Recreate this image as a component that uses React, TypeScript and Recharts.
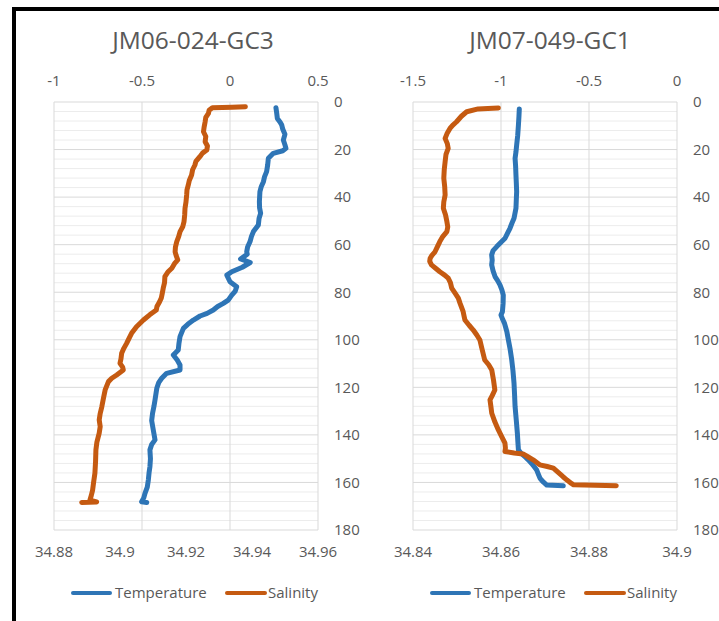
import { ComposedChart, Line, XAxis, YAxis, CartesianGrid } from 'recharts';

// [depth, value] readings, depth in cm (0 at the top)
const gc3Temperature: [number, number][] = [
  [2.4, 0.261], [4.5, 0.265], [6.9, 0.269], [8.5, 0.285], [9.7, 0.294], [11.5, 0.3], [13.6, 0.312],
  [16, 0.303], [18, 0.312], [19.5, 0.318], [20.5, 0.3], [21.6, 0.246], [23.7, 0.218], [26.5, 0.214],
  [29.3, 0.208], [31.5, 0.196], [33.5, 0.19], [35.5, 0.178], [37.7, 0.17], [41.9, 0.167], [44.5, 0.168],
  [46.8, 0.174], [49, 0.165], [51.7, 0.161], [54.5, 0.133], [56.5, 0.122], [58.7, 0.114], [61, 0.1],
  [63, 0.095], [64, 0.098], [66, 0.06], [67.5, 0.115], [69.5, 0.07], [71.4, 0.01], [72.8, -0.018],
  [75.6, 0], [77.7, 0.038], [79.5, 0.03], [81.2, 0.01], [83.3, -0.01], [84.7, -0.038], [86, -0.07],
  [87.5, -0.095], [88.9, -0.13], [90, -0.17], [91.7, -0.208], [93.5, -0.24], [95.2, -0.265], [98.7, -0.284],
  [101.5, -0.29], [104.3, -0.294], [106.4, -0.322], [108.5, -0.3], [110.6, -0.284], [112.7, -0.284],
  [114.1, -0.36], [116.2, -0.388], [118, -0.405], [120.4, -0.416], [125.3, -0.426], [128, -0.432],
  [130.9, -0.44], [134, -0.445], [137.9, -0.436], [142.1, -0.426], [144, -0.445], [146.3, -0.455],
  [150, -0.452], [153.4, -0.455], [156, -0.46], [159, -0.464], [162, -0.47], [164.6, -0.483],
  [166.5, -0.49], [168.1, -0.502], [168.4, -0.473],
];

const gc3Salinity: [number, number][] = [
  [2.0, 34.938], [2.2, 34.934], [2.4, 34.928], [3.5, 34.927], [4.8, 34.9268], [6.5, 34.926], [8.3, 34.9258],
  [10.5, 34.9255], [12.5, 34.9253], [14.5, 34.926], [16.7, 34.9258], [18.5, 34.9265], [20.2, 34.9263],
  [21.5, 34.925], [23, 34.9242], [25, 34.923], [26.5, 34.9227], [28.5, 34.922], [30.7, 34.9217],
  [33, 34.921], [34.9, 34.9207], [37, 34.9203], [39.1, 34.9202], [42, 34.92], [44.7, 34.9197],
  [47.5, 34.9196], [50.3, 34.9194], [52.5, 34.919], [54.5, 34.9182], [56.5, 34.9178], [58.7, 34.9172],
  [61, 34.9168], [63, 34.9167], [64.5, 34.917], [66.4, 34.9175], [68, 34.9165], [69.9, 34.9157],
  [71.5, 34.9145], [73.4, 34.9136], [76, 34.9135], [78.3, 34.9131], [80.5, 34.9128], [82.5, 34.9125],
  [84, 34.912], [86, 34.9112], [87.5, 34.911], [89.5, 34.909], [91.7, 34.9071], [94.5, 34.905],
  [97.3, 34.9035], [99.5, 34.9027], [101.5, 34.902], [103.5, 34.9012], [105.7, 34.9005], [108, 34.9003],
  [109.9, 34.9], [111.5, 34.9008], [112.7, 34.901], [114.8, 34.899], [116.2, 34.8975], [117.6, 34.8965],
  [121.1, 34.8955], [124.5, 34.895], [128.1, 34.8945], [131, 34.894], [133.7, 34.8937], [136.5, 34.894],
  [139.3, 34.8937], [143, 34.893], [146.3, 34.8927], [151, 34.8926], [156.1, 34.8924], [160, 34.892],
  [163.2, 34.8917], [165.5, 34.8913], [167.4, 34.8909], [168.2, 34.8929], [168.4, 34.8884],
];

const gc1Temperature: [number, number][] = [
  [2.9, -0.896], [6, -0.898], [9.7, -0.901], [14, -0.905], [18.1, -0.911], [21, -0.915], [23.7, -0.92],
  [27, -0.917], [30.7, -0.915], [34, -0.913], [37.7, -0.911], [41, -0.913], [44.7, -0.915], [48.9, -0.926],
  [51, -0.938], [53.1, -0.949], [55, -0.962], [57.3, -0.977], [59, -1.0], [60.8, -1.024], [62.5, -1.045],
  [64.3, -1.053], [66.5, -1.05], [68.5, -1.053], [71, -1.045], [73.4, -1.034], [75, -1.02], [76.9, -1.006],
  [79, -0.995], [81.2, -0.987], [84.7, -0.988], [88.2, -0.992], [89.6, -1.0], [91.5, -0.99], [93.1, -0.98],
  [96.5, -0.967], [100.1, -0.958], [104, -0.948], [108.5, -0.939], [113, -0.932], [118.3, -0.926],
  [123, -0.923], [128.1, -0.92], [134, -0.913], [139.3, -0.907], [143, -0.904], [146.3, -0.901],
  [147.8, -0.885], [149.2, -0.864], [150.5, -0.845], [152, -0.826], [153.5, -0.81], [154.8, -0.797],
  [156.5, -0.788], [158.3, -0.778], [159.8, -0.76], [161.1, -0.74], [161.4, -0.646],
];

const gc1Salinity: [number, number][] = [
  [2.5, 34.8594], [2.7, 34.857], [2.9, 34.8548], [4.1, 34.8522], [6, 34.851], [8.3, 34.8499], [9.8, 34.849],
  [11.1, 34.8484], [13, 34.8478], [15.3, 34.8473], [17.5, 34.8478], [19.5, 34.848], [22, 34.8475],
  [25.1, 34.8473], [28.5, 34.8471], [32.1, 34.847], [35.5, 34.8472], [39.1, 34.8473], [42, 34.847],
  [44.7, 34.8469], [47.5, 34.8474], [50.3, 34.8477], [52.5, 34.8479], [54.5, 34.8477], [56.5, 34.8468],
  [58.7, 34.8461], [61, 34.8455], [63, 34.845], [64.5, 34.8443], [65.7, 34.8439], [67, 34.8438],
  [68.5, 34.8442], [70, 34.8452], [71.4, 34.8461], [72.8, 34.8472], [74.1, 34.848], [76, 34.8485],
  [78.3, 34.8488], [80.5, 34.8496], [82.5, 34.8503], [84.7, 34.8507], [88.2, 34.8514], [90, 34.8516],
  [91.7, 34.8518], [94, 34.8528], [95.9, 34.8537], [98, 34.8545], [100.1, 34.8552], [104, 34.8557],
  [108.5, 34.8563], [110.5, 34.8572], [112.7, 34.8579], [117, 34.8583], [121.1, 34.8586], [123.5, 34.858],
  [125.3, 34.8575], [128, 34.8577], [130.9, 34.8579], [134.5, 34.8586], [137.9, 34.8594], [140.5, 34.8601],
  [143.5, 34.8609], [145.5, 34.861], [147, 34.8609], [147.6, 34.863], [148, 34.865], [149.3, 34.8662],
  [150.5, 34.8673], [152.6, 34.8688], [153.3, 34.8705], [154, 34.8719], [155.8, 34.873], [157.6, 34.8741],
  [159, 34.875], [160.4, 34.876], [161, 34.8765], [161.4, 34.8862],
];

const depthDomain = [0, 180];
const depthTicks = [0, 20, 40, 60, 80, 100, 120, 140, 160, 180];
const minorDepthTicks = [
  4, 8, 12, 16, 24, 28, 32, 36, 44, 48, 52, 56, 64, 68, 72, 76, 84, 88, 92, 96,
  104, 108, 112, 116, 124, 128, 132, 136, 144, 148, 152, 156, 164, 168, 172, 176,
];
const gc3TempTicks = [-1, -0.5, 0, 0.5];
const gc3SalTicks = [34.88, 34.9, 34.92, 34.94, 34.96];
const gc1TempTicks = [-1.5, -1, -0.5, 0];
const gc1SalTicks = [34.84, 34.86, 34.88, 34.9];

const BLUE = '#2E75B6';
const ORANGE = '#C55A11';
const TEXT = '#595959';
const FONT = "'Open Sans', sans-serif";
const tickStyle = { fill: TEXT, fontSize: 15, fontFamily: FONT };

const toRows = (pts: [number, number][]) => pts.map(([depth, value]) => ({ depth, value }));

// minor grid rows: map depth onto the plot's height (depth axis runs top→down)
const minorRows = ({ yAxis, offset }: any) => {
  if (yAxis && typeof yAxis.scale === 'function') return minorDepthTicks.map((d) => yAxis.scale(d));
  const [d0, d1] = depthDomain;
  return minorDepthTicks.map((d) => offset.top + ((d - d0) / (d1 - d0)) * offset.height);
};

interface ProfileProps {
  left: number;
  title: string;
  titleX: number;
  temps: [number, number][];
  sals: [number, number][];
  tempTicks: number[];
  salTicks: number[];
}

function Profile({ left, title, titleX, temps, sals, tempTicks, salTicks }: ProfileProps) {
  const plotLeft = left === 0 ? 54 : 53;
  return (
    <div style={{ position: 'absolute', left, top: 0, width: 370, height: 621 }}>
      <svg width={370} height={621} style={{ position: 'absolute', left: 0, top: 0 }}>
        <text x={titleX} y={48.5} textAnchor="middle" fill={TEXT} fontSize={24.5} fontFamily={FONT}>
          {title}
        </text>
        <line x1={plotLeft + 19} x2={plotLeft + 56} y1={593} y2={593} stroke={BLUE} strokeWidth={4} strokeLinecap="round" />
        <text x={plotLeft + 61} y={597.5} fill={TEXT} fontSize={15} fontFamily={FONT}>Temperature</text>
        <line x1={plotLeft + 173} x2={plotLeft + 211} y1={593} y2={593} stroke={ORANGE} strokeWidth={4} strokeLinecap="round" />
        <text x={plotLeft + 214} y={597.5} fill={TEXT} fontSize={15} fontFamily={FONT}>Salinity</text>
      </svg>
      <div style={{ position: 'absolute', left: 0, top: 0 }}>
        <ComposedChart
          layout="vertical"
          width={370}
          height={580}
          margin={{ top: 60, right: 0, bottom: 0, left: plotLeft }}
        >
          <XAxis
            xAxisId="temp"
            type="number"
            orientation="top"
            domain={[tempTicks[0], tempTicks[tempTicks.length - 1]]}
            ticks={tempTicks}
            interval={0}
            height={42}
            axisLine={false}
            tickLine={false}
            tickSize={0}
            tickMargin={16}
            tick={tickStyle}
            allowDataOverflow
          />
          <XAxis
            xAxisId="sal"
            type="number"
            orientation="bottom"
            domain={[salTicks[0], salTicks[salTicks.length - 1]]}
            ticks={salTicks}
            interval={0}
            height={50}
            axisLine={false}
            tickLine={false}
            tickSize={0}
            tickMargin={16}
            tick={tickStyle}
            allowDataOverflow
          />
          <YAxis
            yAxisId="depth"
            type="number"
            dataKey="depth"
            orientation="right"
            domain={depthDomain}
            ticks={depthTicks}
            interval={0}
            width={370 - plotLeft - 264}
            axisLine={false}
            tickLine={false}
            tickSize={0}
            tickMargin={16}
            tick={{ ...tickStyle, textAnchor: 'start' }}
            allowDataOverflow
          />
          <CartesianGrid
            xAxisId="temp"
            yAxisId="depth"
            vertical={false}
            stroke="#ececec"
            horizontalCoordinatesGenerator={minorRows}
          />
          <CartesianGrid xAxisId="temp" yAxisId="depth" stroke="#d9d9d9" />
          <Line
            xAxisId="temp"
            yAxisId="depth"
            data={toRows(temps)}
            dataKey="value"
            name="Temperature"
            stroke={BLUE}
            strokeWidth={5}
            strokeLinejoin="round"
            strokeLinecap="round"
            dot={false}
            isAnimationActive={false}
          />
          <Line
            xAxisId="sal"
            yAxisId="depth"
            data={toRows(sals)}
            dataKey="value"
            name="Salinity"
            stroke={ORANGE}
            strokeWidth={5}
            strokeLinejoin="round"
            strokeLinecap="round"
            dot={false}
            isAnimationActive={false}
          />
        </ComposedChart>
      </div>
    </div>
  );
}

export default function App() {
  return (
    <div
      style={{
        position: 'absolute',
        left: 0,
        top: 0,
        width: 719,
        height: 621,
        background: '#fff',
        overflow: 'hidden',
      }}
    >
      <div
        style={{
          position: 'absolute',
          left: 12,
          top: 7,
          width: 720,
          height: 630,
          borderLeft: '4px solid #000',
          borderTop: '4px solid #000',
        }}
      />
      <Profile
        left={0}
        title="JM06-024-GC3"
        titleX={193}
        temps={gc3Temperature}
        sals={gc3Salinity}
        tempTicks={gc3TempTicks}
        salTicks={gc3SalTicks}
      />
      <Profile
        left={360}
        title="JM07-049-GC1"
        titleX={190}
        temps={gc1Temperature}
        sals={gc1Salinity}
        tempTicks={gc1TempTicks}
        salTicks={gc1SalTicks}
      />
    </div>
  );
}
